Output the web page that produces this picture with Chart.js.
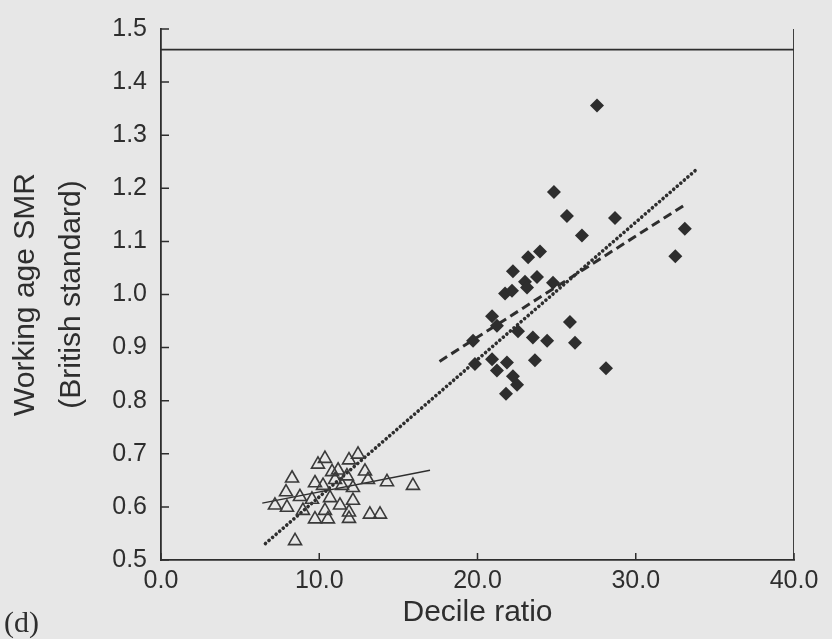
<!DOCTYPE html>
<html>
<head>
<meta charset="utf-8">
<title>Working age SMR vs decile ratio</title>
<script src="https://cdn.jsdelivr.net/npm/chart.js@4.4.1/dist/chart.umd.min.js"></script>
<style>
  html, body { margin: 0; padding: 0; background: #e7e7e7; }
  #wrap { position: relative; width: 832px; height: 639px; }
</style>
</head>
<body>
<div id="wrap"><canvas id="myChart"></canvas></div>
<script>
// Britain (filled diamonds)
const britainX = [27.55, 24.83, 25.65, 28.69, 26.6, 33.1, 32.5, 23.2, 23.95, 22.24, 23.0, 23.76, 23.13, 24.77, 21.74, 22.18, 25.84,
                  20.92, 22.56, 23.5, 24.4, 26.16, 19.72, 19.84, 20.92, 21.86, 21.23, 23.63, 22.24, 22.5, 21.8, 28.12, 21.23];
const britainY = [1.356, 1.193, 1.148, 1.144, 1.111, 1.124, 1.072, 1.070, 1.081, 1.044, 1.024, 1.033, 1.013, 1.022, 1.002, 1.007, 0.948,
                  0.959, 0.931, 0.919, 0.913, 0.909, 0.913, 0.869, 0.878, 0.872, 0.857, 0.876, 0.846, 0.830, 0.813, 0.861, 0.941];

// Japan (open triangles)
const japanX = [10.36, 9.92, 12.45, 11.88, 8.28, 11.19, 12.89, 10.81, 11.75, 13.08, 9.73, 14.28, 15.92, 11.0, 12.13, 11.44, 10.24,
                7.9, 8.78, 9.54, 10.68, 12.13, 7.2, 7.96, 8.97, 11.31, 10.36, 11.88, 9.73, 10.55, 11.88, 13.2, 13.84, 8.47];
const japanY = [0.691, 0.680, 0.699, 0.688, 0.654, 0.669, 0.667, 0.666, 0.658, 0.651, 0.645, 0.647, 0.640, 0.651, 0.636, 0.640, 0.640,
                0.628, 0.619, 0.614, 0.617, 0.612, 0.603, 0.599, 0.593, 0.603, 0.593, 0.590, 0.577, 0.577, 0.578, 0.586, 0.586, 0.536];

// fitted lines (end points)
const allFitX = [6.6, 33.9];
const allFitY = [0.531, 1.237];
const britainFitX = [17.6, 33.0];
const britainFitY = [0.874, 1.167];
const japanFitX = [6.4, 17.0];
const japanFitY = [0.607, 0.669];

// the line drawn across the top of the plot, and the right frame
const topLineX = [0, 40];
const topLineY = [1.461, 1.461];
const rightLineX = [40, 40];
const rightLineY = [0.5, 1.5];

// axis ticks
const xTickValues = [0, 10, 20, 30, 40];
const xTickLabels = ['0.0', '10.0', '20.0', '30.0', '40.0'];
const yTickValues = [0.5, 0.6, 0.7, 0.8, 0.9, 1.0, 1.1, 1.2, 1.3, 1.4, 1.5];
const yTickLabels = ['0.5', '0.6', '0.7', '0.8', '0.9', '1.0', '1.1', '1.2', '1.3', '1.4', '1.5'];

const INK = '#2e2e2e';

function toPoints(xs, ys) {
    return xs.map((x, i) => ({ x: x, y: ys[i] }));
}

function lineSet(xs, ys, width, dash, cap) {
    return {
        type: 'line',
        data: toPoints(xs, ys),
        borderColor: INK,
        borderWidth: width,
        borderDash: dash,
        borderCapStyle: cap,
        pointRadius: 0,
        fill: false,
        tension: 0
    };
}

// inward tick marks and the "(d)" panel letter
const frameTicks = {
    id: 'frameTicks',
    afterDraw(chart) {
        const { ctx, chartArea, scales } = chart;
        ctx.save();
        ctx.strokeStyle = INK;
        ctx.lineWidth = 1.5;
        ctx.beginPath();
        xTickValues.forEach(v => {
            const px = scales.x.getPixelForValue(v);
            ctx.moveTo(px, chartArea.bottom);
            ctx.lineTo(px, chartArea.bottom - 7);
        });
        yTickValues.forEach(v => {
            const py = scales.y.getPixelForValue(v);
            ctx.moveTo(chartArea.left, py);
            ctx.lineTo(chartArea.left + 8, py);
        });
        ctx.stroke();
        ctx.fillStyle = INK;
        ctx.font = '30px "Liberation Serif", serif';
        ctx.textBaseline = 'alphabetic';
        ctx.fillText('(d)', 4, 632);
        ctx.restore();
    }
};

Chart.defaults.font.family = '"Liberation Sans", Arial, sans-serif';
Chart.defaults.color = INK;

const ctx = document.getElementById('myChart').getContext('2d');
new Chart(ctx, {
    type: 'scatter',
    data: {
        datasets: [
            {
                data: toPoints(britainX, britainY),
                pointStyle: 'rectRot',
                pointRadius: 7,
                backgroundColor: INK,
                borderWidth: 0
            },
            {
                data: toPoints(japanX, japanY),
                pointStyle: 'triangle',
                pointRadius: 7.5,
                backgroundColor: 'rgba(0,0,0,0)',
                borderColor: '#3a3a3a',
                borderWidth: 1.6
            },
            lineSet(allFitX, allFitY, 3.6, [0.1, 4.6], 'round'),
            lineSet(britainFitX, britainFitY, 3, [9, 5], 'butt'),
            lineSet(japanFitX, japanFitY, 1.3, [], 'butt'),
            lineSet(topLineX, topLineY, 1.8, [], 'butt'),
            lineSet(rightLineX, rightLineY, 1.8, [], 'butt')
        ]
    },
    options: {
        responsive: true,
        maintainAspectRatio: false,
        animation: false,
        events: [],
        layout: { padding: { top: 20, right: 38, bottom: 0, left: 0 } },
        plugins: {
            legend: { display: false },
            tooltip: { enabled: false }
        },
        scales: {
            x: {
                type: 'linear',
                min: 0,
                max: 40,
                afterBuildTicks: scale => { scale.ticks = xTickValues.map(v => ({ value: v })); },
                afterFit: scale => { scale.height = 79; },
                grid: { display: false, drawTicks: false },
                border: { display: true, color: INK, width: 1.8 },
                ticks: {
                    padding: 6,
                    maxRotation: 0,
                    font: { size: 25 },
                    callback: (value, index) => xTickLabels[index]
                },
                title: {
                    display: true,
                    text: 'Decile ratio',
                    font: { size: 30 },
                    padding: { top: 0, bottom: 8 }
                }
            },
            y: {
                type: 'linear',
                min: 0.5,
                max: 1.5,
                afterBuildTicks: scale => { scale.ticks = yTickValues.map(v => ({ value: v })); },
                afterFit: scale => { scale.width = 161; },
                grid: { display: false, drawTicks: false },
                border: { display: true, color: INK, width: 1.8 },
                ticks: {
                    padding: 14,
                    font: { size: 25 },
                    callback: (value, index) => yTickLabels[index]
                },
                title: {
                    display: true,
                    text: ['Working age SMR', '(British standard)'],
                    font: { size: 30, lineHeight: 1.55 },
                    padding: { top: 2, bottom: 0 }
                }
            }
        }
    },
    plugins: [frameTicks]
});
</script>
</body>
</html>
